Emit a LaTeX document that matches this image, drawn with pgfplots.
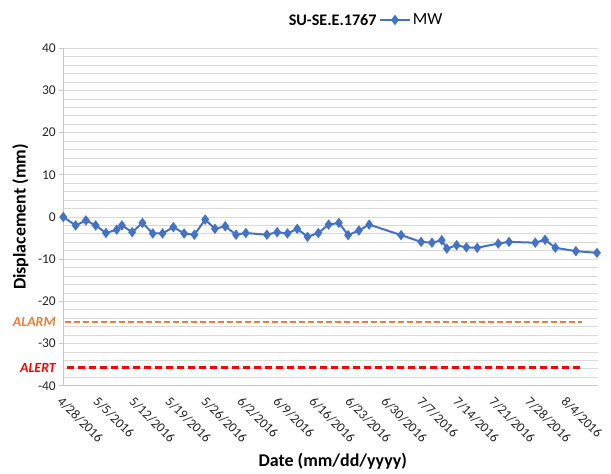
\documentclass[border=0pt]{standalone}
\usepackage{pgfplots}
\pgfplotsset{compat=1.18}
\usepackage{fontspec}
\setmainfont{Carlito}
\definecolor{mwblue}{RGB}{68,114,196}
\definecolor{alarmc}{RGB}{237,125,49}
\definecolor{alertc}{RGB}{255,0,0}
\definecolor{gridc}{RGB}{217,217,217}
\pgfplotstableread{
day val
0.0 0.0
2.4 -2.0
4.4 -0.8
6.3 -2.0
8.3 -3.8
10.4 -3.0
11.4 -2.0
13.4 -3.6
15.4 -1.4
17.4 -3.9
19.3 -3.9
21.4 -2.4
23.5 -3.9
25.5 -4.2
27.6 -0.6
29.5 -2.8
31.5 -2.2
33.6 -4.2
35.5 -3.8
39.6 -4.2
41.6 -3.6
43.6 -3.9
45.5 -2.8
47.5 -4.7
49.6 -3.8
51.6 -1.8
53.6 -1.4
55.4 -4.3
57.5 -3.2
59.5 -1.8
65.7 -4.3
69.6 -5.9
71.7 -6.1
73.6 -5.5
74.6 -7.5
76.5 -6.7
78.4 -7.2
80.5 -7.3
84.6 -6.3
86.7 -5.9
91.8 -6.1
93.7 -5.4
95.7 -7.3
99.7 -8.1
103.8 -8.5
}\mwdata
\begin{document}
\begin{tikzpicture}
\begin{axis}[
  scale only axis, width=534.7bp, height=337.4bp,
  xmin=0, xmax=104, ymin=-40, ymax=40,
  ytick={-40,-30,...,40},
  minor y tick num=4,
  xtick={0,7,...,98},
  xticklabels={4/28/2016,5/5/2016,5/12/2016,5/19/2016,5/26/2016,6/2/2016,6/9/2016,6/16/2016,6/23/2016,6/30/2016,7/7/2016,7/14/2016,7/21/2016,7/28/2016,8/4/2016},
  axis lines=left, axis line style={-, draw=gridc!80!gray, line width=0.8bp},
  tick align=outside, major tick length=4bp, minor tick length=0pt,
  ytick style={draw=gridc!80!gray, line width=0.8bp},
  xtick style={draw=none},
  ymajorgrids, yminorgrids,
  major grid style={draw=gridc, line width=0.8bp},
  minor grid style={draw=gridc, line width=0.8bp},
  tick label style={font=\fontsize{13.5}{16}\selectfont, text=black!85},
  /pgf/number format/assume math mode=true,
  xticklabel style={rotate=-45, anchor=north west, inner sep=1bp, yshift=-3bp, xshift=3bp},
  clip=false,
  ylabel={Displacement (mm)},
  xlabel={Date (mm/dd/yyyy)},
  every axis y label/.style={at={(axis description cs:0,0.5)}, xshift=-43bp, rotate=90, anchor=center, font=\bfseries\fontsize{18}{21}\selectfont},
  every axis x label/.style={at={(axis description cs:0.504,0)}, yshift=-76bp, anchor=center, font=\bfseries\fontsize{18}{21}\selectfont},
  legend style={at={(0.59,1.084)}, anchor=west, draw=none, fill=none, inner sep=0pt, font=\fontsize{17}{20}\selectfont},
  legend image code/.code={\draw[mark repeat=2, mark phase=2, #1] plot coordinates {(0bp,0bp) (15bp,0bp) (30bp,0bp)};},
]
\addplot[alarmc, line width=2bp, dash pattern=on 6bp off 3bp, forget plot] coordinates {(0.3,-25) (100.9,-25)};
\addplot[alertc, line width=3bp, dash pattern=on 7bp off 4bp, forget plot] coordinates {(0.7,-35.7) (100.5,-35.7)};
\addplot[mwblue, line width=2bp, mark=diamond*, mark size=3.6bp, mark options={fill=mwblue, draw=mwblue}] table[x=day, y=val] {\mwdata};
\addlegendentry{MW}
\node[anchor=east, font=\bfseries\itshape\fontsize{14}{16}\selectfont, text=alarmc, xshift=-4bp] at (axis cs:0,-25) {ALARM};
\node[anchor=east, font=\bfseries\itshape\fontsize{14}{16}\selectfont, text=alertc, xshift=-4bp] at (axis cs:0,-35.7) {ALERT};
\node[anchor=east, font=\bfseries\fontsize{16.2}{19}\selectfont, inner sep=0pt, xshift=-2bp] at (axis description cs:0.59,1.084) {SU-SE.E.1767};
\end{axis}
\path[use as bounding box] ([shift={(-63.3bp,-88.3bp)}]current axis.south west) rectangle ([shift={(13bp,48.3bp)}]current axis.north east);
\end{tikzpicture}
\end{document}
